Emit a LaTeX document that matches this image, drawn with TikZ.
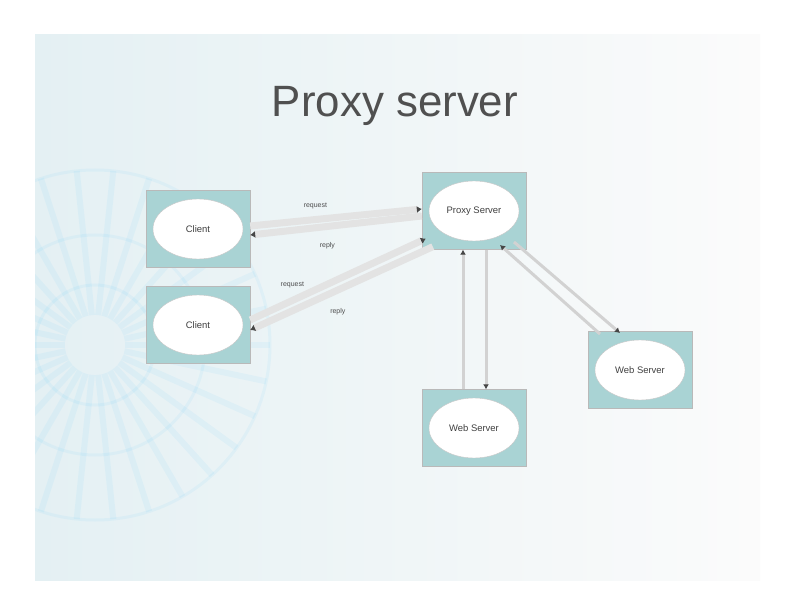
\documentclass[tikz,border=0pt]{standalone}
\usepackage{fontspec}
\setmainfont{Liberation Sans}
\usetikzlibrary{positioning,calc,arrows.meta,shapes.geometric}
\definecolor{slidebg}{HTML}{E4F0F3}
\definecolor{boxteal}{HTML}{A9D3D4}
\definecolor{titlegray}{HTML}{505050}

\begin{document}
\begin{tikzpicture}[x=1bp, y=-1bp,
  hostbox/.style={draw=gray!55, fill=boxteal, minimum width=104bp,
                  minimum height=77bp, inner sep=0pt},
  hostoval/.style={draw=gray!45, fill=white, ellipse, minimum width=90bp,
                   minimum height=60bp, inner sep=0pt,
                   font=\fontsize{9.5}{11}\selectfont, text=black!75},
  band/.style={line width=7bp, gray!22, line cap=butt,
               -{Latex[length=5bp, width=7bp, color=gray!55!black]}},
  wire/.style={line width=3bp, gray!35,
               -{Latex[length=5bp, width=6bp, color=gray!55!black]}},
  msg/.style={font=\fontsize{7}{8}\selectfont, text=black!70},
]
\useasboundingbox (0,0) rectangle (792,612);

% Slide background
\shade[left color=slidebg, right color=gray!3] (35,35) rectangle (760,580);
\begin{scope}
  \clip (35,35) rectangle (760,580);
  \foreach \a in {0,12,...,348}
    \draw[blue!30!cyan, opacity=0.05, line width=6bp]
      ($(95,345)+(\a:30bp)$) -- ++(\a:145bp);
  \foreach \r in {60,110,175}
    \draw[blue!30!cyan, opacity=0.05, line width=3bp] (95,345) circle (\r bp);
\end{scope}

% Title
\node[font=\fontsize{44}{48}\selectfont, text=titlegray] (title) at (395,106)
  {Proxy server};

% Clients
\node[hostbox] (c1) at (198,229) {};
\node[hostoval] (c1o) at (c1) {Client};
\node[hostbox] (c2) at (198,325) {};
\node[hostoval] (c2o) at (c2) {Client};

% Proxy
\node[hostbox] (px) at (474,211) {};
\node[hostoval] (pxo) at (px) {Proxy Server};

% Web servers
\node[hostbox] (w1) at (474,428) {};
\node[hostoval] (w1o) at (w1) {Web Server};
\node[hostbox] (w2) at (640,370) {};
\node[hostoval] (w2o) at (w2) {Web Server};

% Client 1 <-> proxy
\draw[band] ($(c1.east)+(0,-3)$) -- node[msg, pos=0.38, above=4bp] {request}
  ($(px.west)+(0,-2)$);
\draw[band] ($(px.west)+(0,5)$) -- node[msg, pos=0.55, below=9bp] {reply}
  ($(c1.east)+(0,6)$);

% Client 2 <-> proxy
\draw[band] ($(c2.east)+(0,-5)$) -- node[msg, pos=0.24, above=6bp] {request}
  ($(px.south west)+(4,-11)$);
\draw[band] ($(px.south west)+(11,-3)$) -- node[msg, pos=0.52, below=12bp] {reply}
  ($(c2.east)+(0,5)$);

% Proxy <-> web server (below)
\draw[wire] ($(w1.north)+(-11,0)$) -- ($(px.south)+(-11,0)$);
\draw[wire] ($(px.south)+(12,0)$) -- ($(w1.north)+(12,0)$);

% Proxy <-> web server (right)
\draw[wire] ($(w2)+(-40,-36)$) -- ($(px)+(26,34)$);
\draw[wire] ($(px)+(40,31)$) -- ($(w2)+(-20,-37)$);

\end{tikzpicture}
\end{document}
